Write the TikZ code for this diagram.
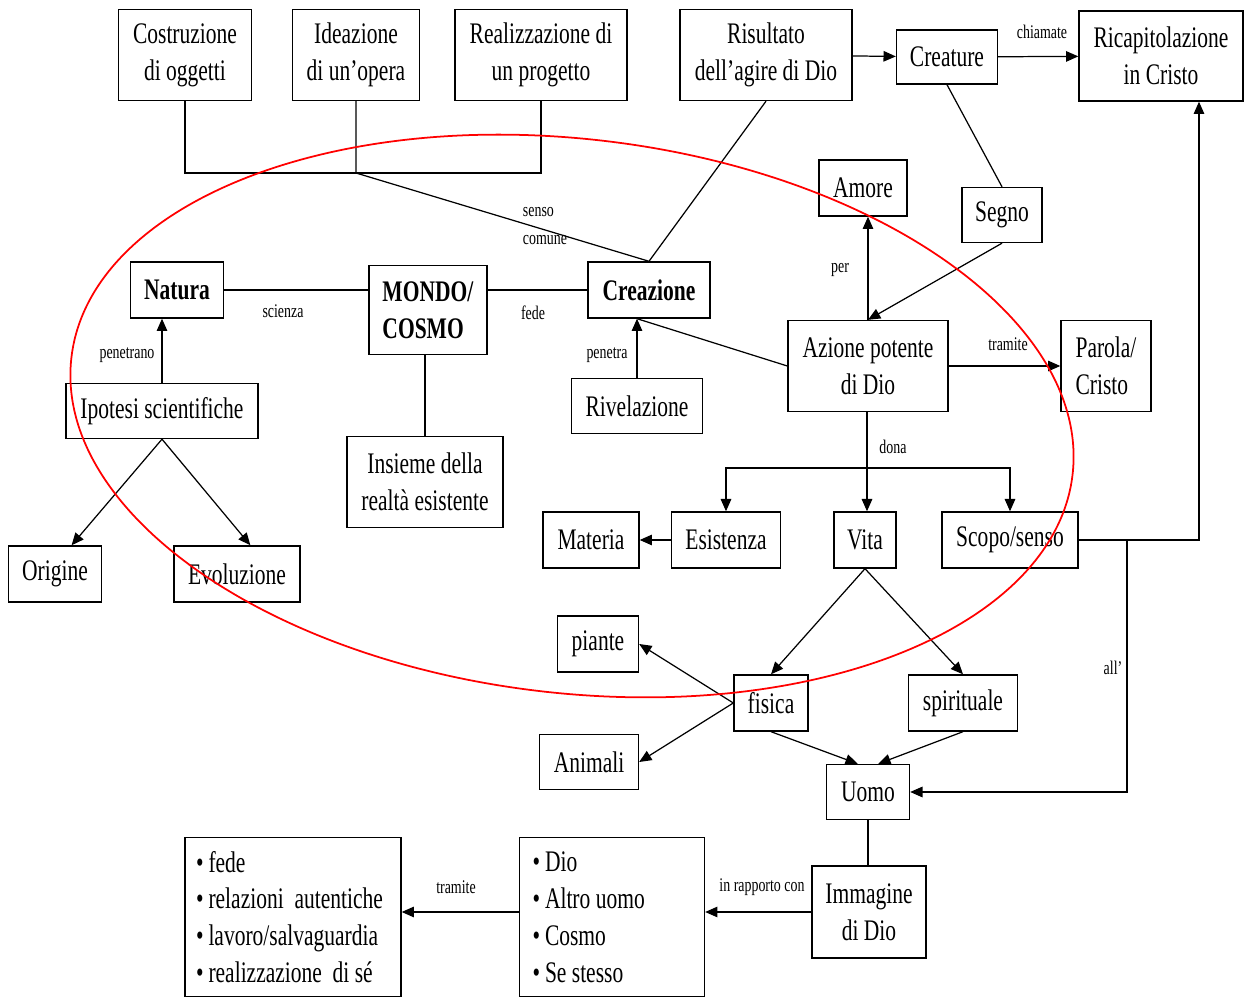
\documentclass[tikz,border=0pt]{standalone}
\usepackage{fontspec}
\setmainfont{Liberation Serif}[FakeStretch=0.72]
\usetikzlibrary{arrows.meta}

\begin{document}
\begin{tikzpicture}[x=0.02cm,y=-0.02cm,line width=0.7pt,
  box/.style={draw,line width=0.8pt,inner sep=2pt,align=center,font=\fontsize{17}{21}\selectfont},
  sz/.style 2 args={minimum width=#1cm,minimum height=#2cm},
  lab/.style={inner sep=1pt,font=\fontsize{11}{16}\selectfont},
  arr/.style={-{Triangle[length=7pt,width=6pt]}}]
  \useasboundingbox (0,0) rectangle (1245,999);
  % top row
  \node[box,sz={2.66}{1.82}] (cost) at (185,55) {Costruzione\\di oggetti};
  \node[box,sz={2.54}{1.82}] (idea) at (356,55) {Ideazione\\di un'opera};
  \node[box,sz={3.44}{1.82}] (real) at (541,55) {Realizzazione di\\un progetto};
  \node[box,sz={3.44}{1.82}] (risu) at (766,55) {Risultato\\dell'agire di Dio};
  \node[box,sz={2.02}{1.08}] (crea) at (947,57) {Creature};
  \node[box,sz={3.28}{1.80}] (ricap) at (1161,56) {Ricapitolazione\\in Cristo};
  \node[box,sz={1.76}{1.12}] (amore) at (863,188) {Amore};
  \node[box,sz={1.60}{1.10}] (segno) at (1002,215) {Segno};
  % middle
  \node[box,sz={1.86}{1.12}] (natura) at (177,290) {\textbf{Natura}};
  \node[box,sz={2.36}{1.78},align=left] (mondo) at (428,310) {\textbf{MONDO/}\\\textbf{COSMO}};
  \node[box,sz={2.44}{1.12}] (creaz) at (649,290) {\textbf{Creazione}};
  \node[box,sz={3.12}{1.82}] (ins) at (425,482) {Insieme della\\realtà esistente};
  \node[box,sz={3.84}{1.10}] (ipot) at (162,411) {Ipotesi scientifiche};
  \node[box,sz={1.86}{1.12}] (orig) at (55,574) {Origine};
  \node[box,sz={2.52}{1.12}] (evol) at (237,574) {Evoluzione};
  \node[box,sz={2.62}{1.10}] (rivel) at (637,406) {Rivelazione};
  \node[box,sz={3.20}{1.82}] (azione) at (868,366) {Azione potente\\di Dio};
  \node[box,sz={1.80}{1.82},align=left] (parola) at (1106,366) {Parola/\\Cristo};
  \node[box,sz={1.92}{1.12}] (mat) at (591,540) {Materia};
  \node[box,sz={2.18}{1.12}] (esist) at (726,540) {Esistenza};
  \node[box,sz={1.24}{1.12}] (vita) at (865,540) {Vita};
  \node[box,sz={2.72}{1.12}] (scopo) at (1010,540) {Scopo/senso};
  % bottom
  \node[box,sz={1.62}{1.12}] (piante) at (598,644) {piante};
  \node[box,sz={1.98}{1.10}] (anim) at (589,762) {Animali};
  \node[box,sz={1.48}{1.12}] (fis) at (771,703) {fisica};
  \node[box,sz={2.18}{1.12}] (spir) at (963,703) {spirituale};
  \node[box,sz={1.66}{1.10}] (uomo) at (868,792) {Uomo};
  \node[box,sz={2.28}{1.84}] (immag) at (869,912) {Immagine\\di Dio};
  \node[box,sz={3.70}{3.18},align=flush left,inner xsep=0.26cm,text width=3.18cm] (dl) at (612,917)
    {\textbullet\,Dio\\\textbullet\,Altro uomo\\\textbullet\,Cosmo\\\textbullet\,Se stesso};
  \node[box,sz={4.32}{3.18},align=flush left,inner xsep=0.22cm,text width=3.88cm] (fl) at (293,917)
    {\textbullet\,fede\\\textbullet\,relazioni\ \ autentiche\\\textbullet\,lavoro/salvaguardia\\\textbullet\,realizzazione\ \ di sé};

  \coordinate (j) at (356,173);
  \coordinate (d) at (867,468);
  \coordinate (k) at (1127,540);

  \draw (cost.south) -- (cost.south |- j) -- (real.south |- j) -- (real.south);
  \draw (idea.south) -- (j) -- (creaz.north);
  \draw (risu.south) -- (creaz.north);
  \draw[arr] (risu) -- (crea);
  \draw[arr] (crea) -- (ricap);
  \draw (crea.south) -- (segno.north);
  \draw[arr] (segno.south) -- (azione.north);
  \draw[arr] (azione.north) -- (azione.north |- amore.south);
  \draw (natura.east) -- (natura.east -| mondo.west);
  \draw (mondo.east |- natura.east) -- (creaz.west |- natura.east);
  \draw (ins.north |- mondo.south) -- (ins.north);
  \draw[arr] (ipot.north) -- (ipot.north |- natura.south);
  \draw[arr] (ipot.south) -- (orig.60);
  \draw[arr] (ipot.south) -- (evol.65);
  \draw[arr] (rivel.north) -- (rivel.north |- creaz.south);
  \draw (azione.west) -- (rivel.north |- creaz.south);
  \draw[arr] (azione.east) -- (parola.west);
  \draw[arr] (d |- azione.south) -- (d |- vita.north);
  \draw[arr] (d) -| (esist.north);
  \draw[arr] (d) -| (scopo.north);
  \draw[arr] (esist.west) -- (mat.east);
  \draw[arr] (scopo.east) -| ([xshift=0.76cm]ricap.south);
  \draw[arr] (k) |- (uomo.east);
  \draw[arr] (vita.south) -- (fis.north);
  \draw[arr] (vita.south) -- (spir.north);
  \draw[arr] (fis.west) -- (piante.east);
  \draw[arr] (fis.west) -- (anim.east);
  \draw[arr] (fis.south) -- (uomo.110);
  \draw[arr] (spir.south) -- (uomo.70);
  \draw (uomo.south) -- (uomo.south |- immag.north);
  \draw[arr] (immag.west) -- (immag.west -| dl.east);
  \draw[arr] (dl.west |- immag.west) -- (fl.east |- immag.west);

  % labels
  \node[lab] (lchiam) at (1042,32) {chiamate};
  \node[lab,align=left] (lsenso) at (545,226) {senso\\comune};
  \node[lab] (lper) at (840,270) {per};
  \node[lab] (lsci) at (283,311) {scienza};
  \node[lab] (lfede) at (533,313) {fede};
  \node[lab] (lpen) at (127,355) {penetrano};
  \node[lab] (lpenr) at (607,355) {penetra};
  \node[lab] (ltram) at (1008,344) {tramite};
  \node[lab] (ldona) at (893,447) {dona};
  \node[lab] (lall) at (1113,668) {all'};
  \node[lab] (lrap) at (762,887) {in rapporto con};
  \node[lab] (ltram2) at (456,887) {tramite};

  % ellipse
  \draw[red,line width=1pt,rotate around={-6.7:(572,416)}] (572,416) ellipse [x radius=504,y radius=277];
\end{tikzpicture}
\end{document}
